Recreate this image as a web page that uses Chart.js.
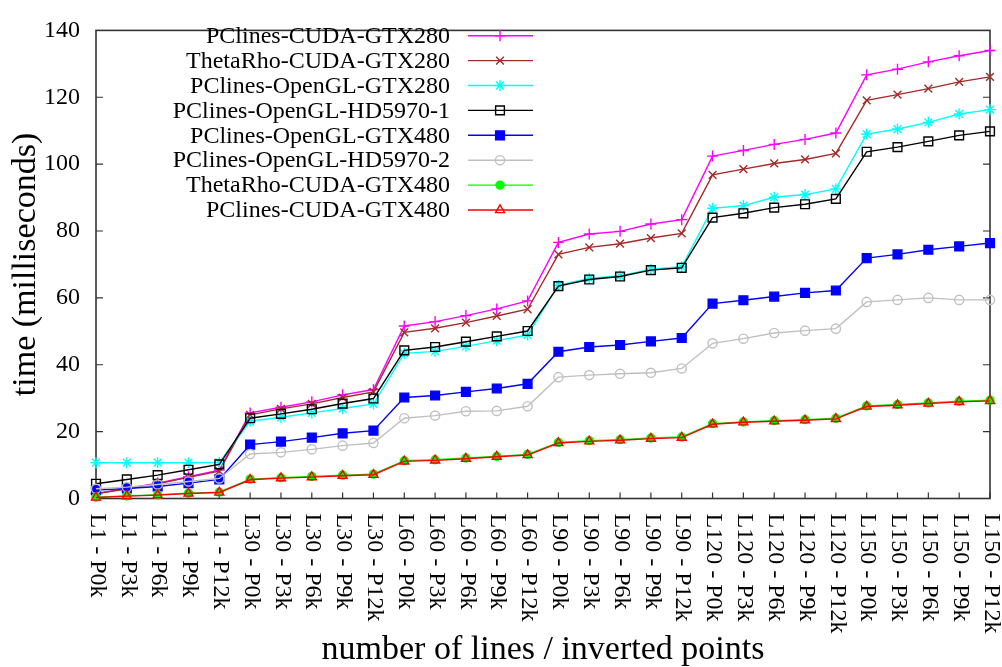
<!DOCTYPE html>
<html>
<head>
<meta charset="utf-8">
<script src="https://cdn.jsdelivr.net/npm/chart.js@4/dist/chart.umd.min.js"></script>
<style>
html,body{margin:0;padding:0;background:#fff;}
canvas{display:block;}
</style>
</head>
<body>
<canvas id="c" width="1002" height="667"></canvas>
<script>
// ---- data ----
const categories = [
  "L1 - P0k","L1 - P3k","L1 - P6k","L1 - P9k","L1 - P12k",
  "L30 - P0k","L30 - P3k","L30 - P6k","L30 - P9k","L30 - P12k",
  "L60 - P0k","L60 - P3k","L60 - P6k","L60 - P9k","L60 - P12k",
  "L90 - P0k","L90 - P3k","L90 - P6k","L90 - P9k","L90 - P12k",
  "L120 - P0k","L120 - P3k","L120 - P6k","L120 - P9k","L120 - P12k",
  "L150 - P0k","L150 - P3k","L150 - P6k","L150 - P9k","L150 - P12k"
];
const yTicks = [0, 20, 40, 60, 80, 100, 120, 140];

const pclinesCudaGtx280   = [1.5,3.0,4.6,6.5,8.5, 25.6,27.3,28.9,31.0,32.6, 51.6,52.9,54.7,56.7,59.1, 76.6,79.1,79.9,82.1,83.4, 102.4,104.1,105.9,107.4,109.3, 126.7,128.4,130.6,132.4,134.0];
const thetaRhoCudaGtx280  = [1.4,2.9,4.4,6.3,8.2, 25.0,26.8,28.3,30.2,31.9, 49.7,50.9,52.6,54.6,56.6, 73.0,75.1,76.2,77.9,79.3, 96.8,98.5,100.2,101.4,103.2, 119.1,120.8,122.6,124.6,126.1];
const pclinesOglGtx280    = [10.7,10.7,10.7,10.7,10.8, 23.1,24.3,25.6,26.9,28.3, 43.4,44.0,45.5,47.2,48.9, 63.8,65.8,66.6,68.6,69.3, 86.8,87.6,90.1,90.9,92.6, 109.0,110.5,112.5,115.0,116.3];
const pclinesOglHd5970_1  = [4.4,5.7,7.0,8.6,10.2, 24.0,25.3,26.7,28.4,29.9, 44.3,45.3,46.9,48.5,50.1, 63.5,65.5,66.4,68.3,69.0, 84.0,85.3,87.0,88.0,89.6, 103.7,105.1,106.8,108.6,109.8];
const pclinesOglGtx480    = [2.5,3.0,3.6,4.6,5.7, 16.1,17.0,18.2,19.5,20.3, 30.2,30.8,31.9,32.9,34.3, 43.9,45.3,45.9,47.0,48.0, 58.3,59.3,60.4,61.5,62.2, 71.9,73.0,74.4,75.4,76.4];
const pclinesOglHd5970_2  = [2.9,3.4,4.2,5.1,6.0, 13.3,13.8,14.7,15.8,16.6, 24.0,24.8,26.1,26.2,27.6, 36.3,36.9,37.3,37.6,38.9, 46.4,47.8,49.5,50.2,50.8, 58.8,59.4,60.0,59.4,59.4];
const thetaRhoCudaGtx480  = [0.4,0.8,1.1,1.6,1.9, 5.8,6.2,6.6,7.0,7.3, 11.3,11.6,12.1,12.6,13.2, 16.8,17.3,17.6,18.1,18.4, 22.4,22.9,23.3,23.6,24.0, 27.7,28.1,28.6,29.1,29.4];
const pclinesCudaGtx480   = [0.3,0.7,1.0,1.5,1.8, 5.6,6.1,6.4,6.8,7.1, 11.1,11.4,11.9,12.5,13.0, 16.6,17.1,17.4,17.9,18.2, 22.2,22.8,23.1,23.4,23.8, 27.5,27.9,28.4,28.9,29.2];

const seriesNames = [
  "PClines-CUDA-GTX280","ThetaRho-CUDA-GTX280","PClines-OpenGL-GTX280","PClines-OpenGL-HD5970-1",
  "PClines-OpenGL-GTX480","PClines-OpenGL-HD5970-2","ThetaRho-CUDA-GTX480","PClines-CUDA-GTX480"
];
const seriesData = [pclinesCudaGtx280, thetaRhoCudaGtx280, pclinesOglGtx280, pclinesOglHd5970_1,
  pclinesOglGtx480, pclinesOglHd5970_2, thetaRhoCudaGtx480, pclinesCudaGtx480];

// ---- styles ----
const FONT = "'Liberation Serif', 'Times New Roman', serif";
const styles = [
  {color:'#ff00ff', style:'cross',    r:5.5, fill:false},
  {color:'#a52a2a', style:'crossRot', r:5.5, fill:false},
  {color:'#00ffff', style:'star',     r:5.5, fill:false},
  {color:'#000000', style:'rect',     r:6.2, fill:false},
  {color:'#0000ff', style:'rect',     r:6.2, fill:true},
  {color:'#c0c0c0', style:'circle',   r:4.6, fill:false},
  {color:'#00ff00', style:'circle',   r:4.0, fill:true},
  {color:'#ff0000', style:'triangle', r:5.2, fill:false}
];

const datasets = seriesData.map((d, i) => ({
  label: seriesNames[i],
  data: d,
  borderColor: styles[i].color,
  backgroundColor: styles[i].fill ? styles[i].color : 'rgba(0,0,0,0)',
  borderWidth: 1.4,
  pointStyle: styles[i].style,
  pointRadius: styles[i].r,
  pointHoverRadius: styles[i].r,
  pointBorderWidth: 1.4,
  pointBackgroundColor: styles[i].fill ? styles[i].color : 'rgba(0,0,0,0)',
  pointBorderColor: styles[i].color,
  tension: 0,
  clip: false,
  order: seriesData.length - i
}));

function drawMarker(ctx, st, x, y) {
  const H = Chart.helpers;
  ctx.save();
  ctx.strokeStyle = st.color;
  ctx.fillStyle = st.fill ? st.color : 'rgba(0,0,0,0)';
  ctx.lineWidth = 1.4;
  if (H && H.drawPoint) {
    H.drawPoint(ctx, {pointStyle: st.style, radius: st.r, rotation: 0, borderWidth: 1.4}, x, y);
  }
  ctx.restore();
}

const framePlugin = {
  id: 'frame',
  beforeDatasetsDraw(chart) {
    const {ctx, chartArea: a, scales} = chart;
    ctx.save();
    ctx.strokeStyle = '#333';
    ctx.lineWidth = 1.6;
    ctx.strokeRect(a.left, a.top, a.right - a.left, a.bottom - a.top);
    ctx.lineWidth = 1.2;
    ctx.beginPath();
    yTicks.forEach(v => {
      const y = scales.y.getPixelForValue(v);
      if (v !== 0 && v !== 140) {
        ctx.moveTo(a.left, y); ctx.lineTo(a.left + 7, y);
        ctx.moveTo(a.right, y); ctx.lineTo(a.right - 7, y);
      }
    });
    categories.forEach((c, i) => {
      const x = scales.x.getPixelForValue(i);
      ctx.moveTo(x, a.bottom); ctx.lineTo(x, a.bottom - 6);
    });
    ctx.stroke();
    ctx.restore();
  },
  afterDraw(chart) {
    const {ctx, chartArea: a, scales} = chart;
    ctx.save();
    // x tick labels, rotated clockwise, reading top to bottom
    ctx.fillStyle = '#000';
    ctx.font = "24px " + FONT;
    ctx.textAlign = 'left';
    ctx.textBaseline = 'middle';
    categories.forEach((c, i) => {
      const x = scales.x.getPixelForValue(i);
      ctx.save();
      ctx.translate(x + 1, a.bottom + 15);
      ctx.rotate(Math.PI / 2);
      ctx.fillText(c, 0, 0);
      ctx.restore();
    });
    // legend
    chart.data.datasets.forEach((ds, i) => {
      const y = 35.7 + i * 24.9;
      ctx.fillStyle = '#000';
      ctx.textAlign = 'right';
      ctx.textBaseline = 'middle';
      ctx.font = "24px " + FONT;
      ctx.fillText(ds.label, 450, y + 1);
      ctx.strokeStyle = styles[i].color;
      ctx.lineWidth = 1.4;
      ctx.beginPath();
      ctx.moveTo(468, y); ctx.lineTo(533, y);
      ctx.stroke();
      drawMarker(ctx, styles[i], 500, y);
    });
    ctx.restore();
  }
};

new Chart(document.getElementById('c'), {
  type: 'line',
  data: { labels: categories, datasets },
  options: {
    responsive: false,
    animation: false,
    devicePixelRatio: 1,
    layout: { padding: { top: 18, right: 12, left: 0, bottom: 0 } },
    plugins: { legend: { display: false }, tooltip: { enabled: false }, title: { display: false } },
    scales: {
      x: {
        type: 'category',
        offset: false,
        grid: { display: false, drawTicks: false },
        border: { display: false },
        ticks: { display: false, autoSkip: false },
        title: {
          display: true,
          text: 'number of lines / inverted points',
          color: '#000',
          font: { family: FONT, size: 34, lineHeight: 1 },
          padding: { top: 0, bottom: 0 }
        },
        afterFit(s) { s.height = 168.5; }
      },
      y: {
        min: 0, max: 140,
        grid: { display: false, drawTicks: false },
        border: { display: false },
        afterBuildTicks(s) { s.ticks = yTicks.map(v => ({ value: v })); },
        ticks: { color: '#000', font: { family: FONT, size: 24 }, padding: 16 },
        title: {
          display: true,
          text: 'time (milliseconds)',
          color: '#000',
          font: { family: FONT, size: 34, lineHeight: 1 },
          padding: { top: 9, bottom: 0 }
        },
        afterFit(s) { s.width = 96; }
      }
    }
  },
  plugins: [framePlugin]
});
</script>
</body>
</html>
